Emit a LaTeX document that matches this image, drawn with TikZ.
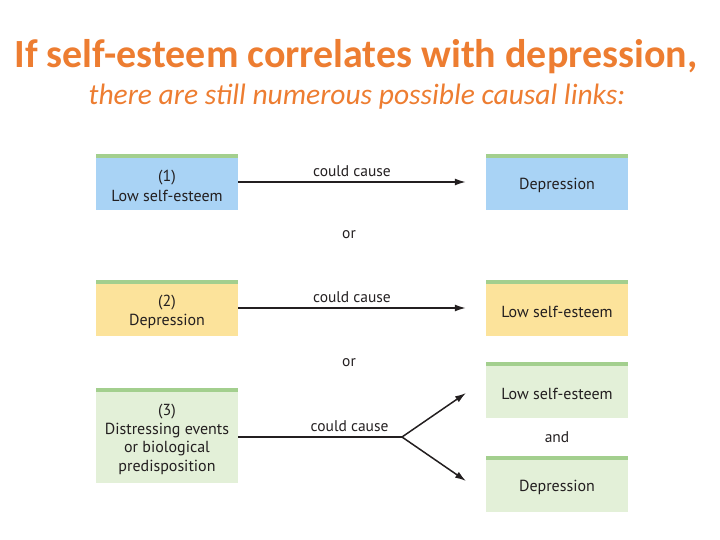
\documentclass[tikz,border=0pt]{standalone}
\usepackage{fontspec}
\setmainfont{Carlito}
\newfontfamily\boxfont{PT Sans}
\usetikzlibrary{arrows.meta}
\definecolor{titleorange}{HTML}{ED7D31}
\definecolor{skyblue}{HTML}{A9D3F5}
\definecolor{sandyellow}{HTML}{FCE39B}
\definecolor{palegreen}{HTML}{E3F0D8}
\definecolor{stripegreen}{HTML}{A3CF8E}
\definecolor{inkgray}{HTML}{231F20}
\newcommand{\boxlift}{\rule{0pt}{19pt}}
\tikzset{
  box/.style={minimum width=142pt, minimum height=56pt, inner sep=0pt, align=center,
              text=inkgray, font=\boxfont\fontsize{16}{19.5}\selectfont,
              path picture={\fill[stripegreen] (path picture bounding box.north west)
                            rectangle ([yshift=-4pt]path picture bounding box.north east);}},
  word/.style={text=inkgray, font=\boxfont\fontsize{15.5}{18}\selectfont},
  cause/.style={line width=1.5pt, inkgray, -{Latex[length=11pt,width=7pt]}}
}
\begin{document}
\begin{tikzpicture}[x=1pt, y=-1pt]
      \useasboundingbox (0, 0) rectangle (720, 540);
      \node (title) at (356, 57) [titleorange, font=\bfseries\fontsize{40}{46}\selectfont] {If self-esteem correlates with depression,};
      \node (subtitle) at (357, 97) [titleorange, font=\itshape\fontsize{29.5}{34}\selectfont] {there are still numerous possible causal links:};
      % (1)
      \node (lse1) at (167, 182) [box, fill=skyblue] {\boxlift(1)\\Low self-esteem};
      \node (dep1) at (557, 182) [box, fill=skyblue] {\boxlift Depression};
      \node (or1) at (349, 235) [word] {or};
      % (2)
      \node (dep2) at (167, 308) [box, fill=sandyellow] {\boxlift(2)\\Depression};
      \node (lse2) at (557, 308) [box, fill=sandyellow] {\boxlift Low self-esteem};
      \node (or2) at (349, 363) [word] {or};
      % (3)
      \node (cause3) at (167, 435.5) [box, fill=palegreen, minimum height=95pt, font=\boxfont\fontsize{16}{18.5}\selectfont] {\boxlift(3)\\Distressing events\\or biological\\predisposition};
      \node (lse3) at (557, 390) [box, fill=palegreen] {\boxlift Low self-esteem};
      \node (and3) at (557, 437) [word] {and};
      \node (dep3) at (557, 484) [box, fill=palegreen] {\boxlift Depression};
      \coordinate (fork) at (402, 437);
      \coordinate (tipup) at (466, 393);
      \coordinate (tipdown) at (466, 481);
      \draw[cause] (lse1.east) -- node [word, above=1pt] {could cause} ([xshift=-20pt]dep1.west);
      \draw[cause] (dep2.east) -- node [word, above=1pt] {could cause} ([xshift=-20pt]lse2.west);
      \draw[line width=1.5pt, inkgray] (cause3.east |- fork) -- node [word, above=1pt, pos=.68] {could cause} (fork);
      \draw[cause] (fork) -- (tipup);
      \draw[cause] (fork) -- (tipdown);
\end{tikzpicture}
\end{document}
